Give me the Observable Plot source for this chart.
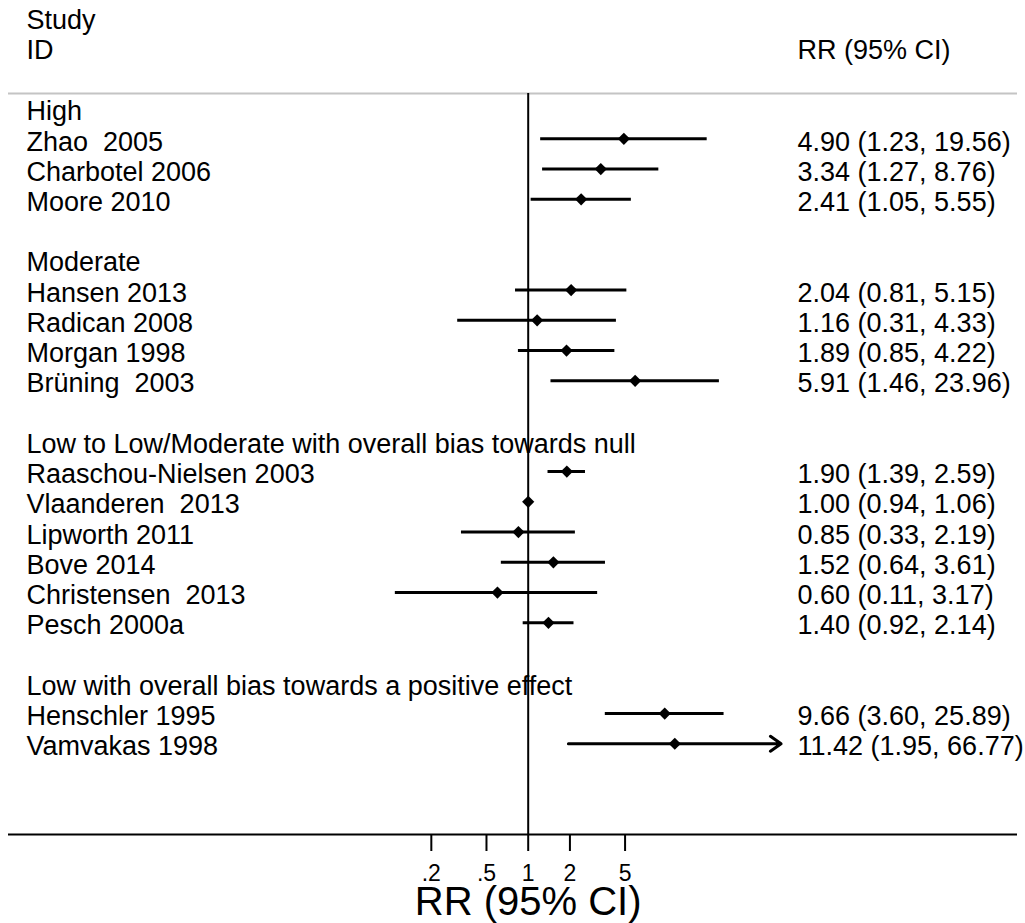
<!DOCTYPE html>
<html><head><meta charset="utf-8">
<script src="https://cdn.jsdelivr.net/npm/d3@7"></script>
<script src="https://cdn.jsdelivr.net/npm/@observablehq/plot@0.6"></script>
<style>
html,body{margin:0;padding:0;background:#fff;}
svg text{white-space:pre;}
</style></head><body><div id="chart"></div>
<script>
// ---- data ----
const groupNames = [
  "High",
  "Moderate",
  "Low to Low/Moderate with overall bias towards null",
  "Low with overall bias towards a positive effect"
];
const studyNames = [
  "Zhao  2005", "Charbotel 2006", "Moore 2010",
  "Hansen 2013", "Radican 2008", "Morgan 1998", "Brüning  2003",
  "Raaschou-Nielsen 2003", "Vlaanderen  2013", "Lipworth 2011", "Bove 2014", "Christensen  2013", "Pesch 2000a",
  "Henschler 1995", "Vamvakas 1998"
];
const studyGroup = [0,0,0, 1,1,1,1, 2,2,2,2,2,2, 3,3];
const rr    = [4.90, 3.34, 2.41, 2.04, 1.16, 1.89, 5.91, 1.90, 1.00, 0.85, 1.52, 0.60, 1.40, 9.66, 11.42];
const lower = [1.23, 1.27, 1.05, 0.81, 0.31, 0.85, 1.46, 1.39, 0.94, 0.33, 0.64, 0.11, 0.92, 3.60, 1.95];
const upper = [19.56, 8.76, 5.55, 5.15, 4.33, 4.22, 23.96, 2.59, 1.06, 2.19, 3.61, 3.17, 2.14, 25.89, 66.77];
const headerLeft = ["Study", "ID"];
const headerRight = ["RR (95% CI)"];
const xTicks = [0.2, 0.5, 1, 2, 5];
const xTickLabels = [".2", ".5", "1", "2", "5"];
const axisTitle = ["RR (95% CI)"];
const arrowLimit = 50; // CIs beyond this get an arrow

// ---- build rows ----
const rows = [];
let r = 0;
groupNames.forEach((g, gi) => {
  rows.push({row: r++, label: g, kind: "group"});
  studyNames.forEach((s, i) => {
    if (studyGroup[i] === gi) rows.push({row: r++, label: s, kind: "study", rr: rr[i], lo: lower[i], hi: upper[i]});
  });
  r++;
});
const studies = rows.filter(d => d.kind === "study");
const lastRow = r + 1;
const headers = headerLeft.map((t, i) => ({row: -headerLeft.length - 1 + i, t}));
const tickData = xTicks.map((v, i) => ({v, label: xTickLabels[i]}));
const fmt = v => v.toFixed(2);
const font = "'Liberation Sans', Arial, Helvetica, sans-serif";

const chart = Plot.plot({
  width: 1025, height: 923,
  marginTop: 93, marginBottom: 89, marginLeft: 8, marginRight: 8,
  style: {fontFamily: font, background: "white", color: "black"},
  x: {type: "log", domain: [0.1, 10], range: [389.1, 666.3]},
  y: {domain: [-0.5, lastRow], range: [93, 834], axis: null},
  marks: [
    Plot.ruleY([-0.5], {stroke: "#c4c4c4", strokeWidth: 2}),
    Plot.ruleY([lastRow], {stroke: "black", strokeWidth: 2}),
    Plot.ruleX([1], {y1: -0.5, y2: lastRow, stroke: "black", strokeWidth: 2}),
    Plot.ruleY(studies.filter(d => d.hi <= arrowLimit), {y: "row", x1: "lo", x2: "hi", stroke: "black", strokeWidth: 3}),
    Plot.arrow(studies.filter(d => d.hi > arrowLimit), {y1: "row", y2: "row", x1: "lo", x2: "hi", stroke: "black", strokeWidth: 3, headLength: 6.5, headAngle: 70}),
    Plot.dot(studies, {x: "rr", y: "row", symbol: "diamond2", r: 5.5, fill: "black", stroke: "none"}),
    Plot.text(rows, {y: "row", text: "label", frameAnchor: "left", textAnchor: "start", dx: 18, dy: 3, fontSize: 27, fill: "black"}),
    Plot.text(studies, {y: "row", text: d => `${fmt(d.rr)} (${fmt(d.lo)}, ${fmt(d.hi)})`, frameAnchor: "right", textAnchor: "start", dx: -220, dy: 3, fontSize: 27, fill: "black"}),
    Plot.text(headers, {y: "row", text: "t", frameAnchor: "left", textAnchor: "start", dx: 18, dy: 2, fontSize: 27, fill: "black"}),
    Plot.text(headerRight, {y: () => -2, text: d => d, frameAnchor: "right", textAnchor: "start", dx: -220, dy: 2, fontSize: 27, fill: "black"}),
    Plot.axisX(xTicks, {anchor: "bottom", tickSize: 17, strokeWidth: 2, tickFormat: () => "", label: null}),
    Plot.text(tickData, {x: "v", text: "label", frameAnchor: "bottom", lineAnchor: "top", dy: 30, fontSize: 23, fill: "black"}),
    Plot.text(axisTitle, {x: () => 1, text: d => d, frameAnchor: "bottom", lineAnchor: "bottom", dy: 80, fontSize: 40, fill: "black"})
  ]
});
document.getElementById("chart").appendChild(chart);
</script></body></html>
